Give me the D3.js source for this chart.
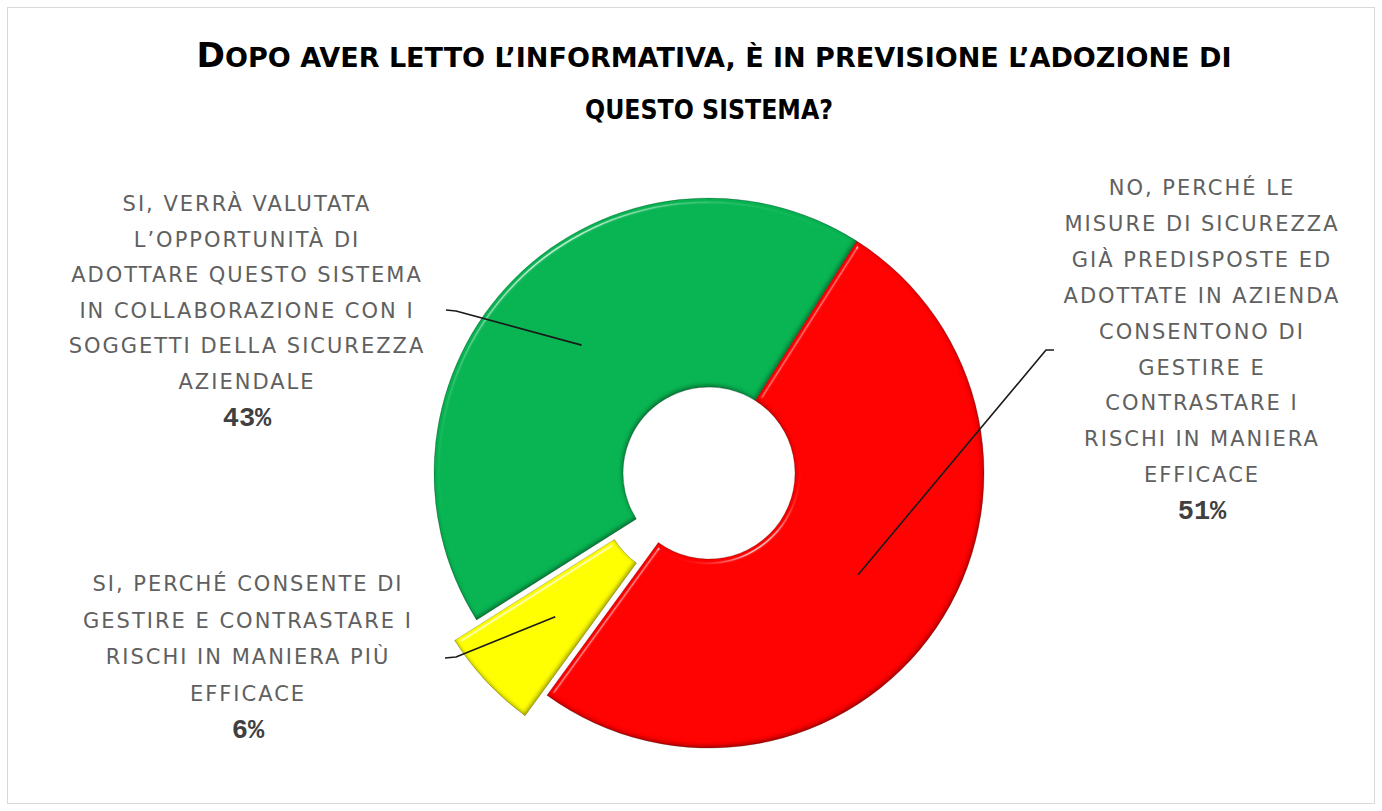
<!DOCTYPE html>
<html>
<head>
<meta charset="utf-8">
<script src="https://cdn.jsdelivr.net/npm/d3@7/dist/d3.min.js"></script>
<style>
  html, body { margin: 0; padding: 0; background: #ffffff; }
  svg { display: block; }
</style>
</head>
<body>
<svg id="chart" width="1382" height="811"></svg>
<script>
// ---------------- DATA ----------------
const titleLines = [
  "DOPO AVER LETTO L’INFORMATIVA, È IN PREVISIONE L’ADOZIONE DI",
  "QUESTO SISTEMA?"
];
const categories = [
  "NO, PERCHÉ LE MISURE DI SICUREZZA GIÀ PREDISPOSTE ED ADOTTATE IN AZIENDA CONSENTONO DI GESTIRE E CONTRASTARE I RISCHI IN MANIERA EFFICACE",
  "SI, PERCHÉ CONSENTE DI GESTIRE E CONTRASTARE I RISCHI IN MANIERA PIÙ EFFICACE",
  "SI, VERRÀ VALUTATA L’OPPORTUNITÀ DI ADOTTARE QUESTO SISTEMA IN COLLABORAZIONE CON I SOGGETTI DELLA SICUREZZA AZIENDALE"
];
const values = [51, 6, 43];
const labelLines = [
  ["NO, PERCHÉ LE", "MISURE DI SICUREZZA", "GIÀ PREDISPOSTE ED", "ADOTTATE IN AZIENDA", "CONSENTONO DI", "GESTIRE E", "CONTRASTARE I", "RISCHI IN MANIERA", "EFFICACE"],
  ["SI, PERCHÉ CONSENTE DI", "GESTIRE E CONTRASTARE I", "RISCHI IN MANIERA PIÙ", "EFFICACE"],
  ["SI, VERRÀ VALUTATA", "L’OPPORTUNITÀ DI", "ADOTTARE QUESTO SISTEMA", "IN COLLABORAZIONE CON I", "SOGGETTI DELLA SICUREZZA", "AZIENDALE"]
];

// ---------------- STYLE / LAYOUT ----------------
const W = 1382, H = 811;
const sliceColors = ["#ff0000", "#ffff00", "#08b552"];
const cx = 709, cy = 473;
const outerR = 275, innerR = 86;
const startDeg = 32.5;
const explodeBy = [0, 30, 0];
const labelLayout = [
  { x: 1202, y: 195, lh: 35.9, anchor: [1054, 350], hook: [1046, 350] },
  { x: 248, y: 591, lh: 36.5, anchor: [445, 658], hook: [456, 657] },
  { x: 247, y: 211, lh: 35.6, anchor: [446, 310], hook: [456, 311] }
];

const svg = d3.select("#chart");

// defs: bevel filter
const defs = svg.append("defs");
const f = defs.append("filter").attr("id", "bevel")
  .attr("color-interpolation-filters", "sRGB")
  .attr("x", "-10%").attr("y", "-10%").attr("width", "120%").attr("height", "120%");
f.append("feGaussianBlur").attr("in", "SourceAlpha").attr("stdDeviation", 2.5).attr("result", "blur");
const spec = f.append("feSpecularLighting").attr("in", "blur").attr("surfaceScale", 4)
  .attr("specularConstant", 0.8).attr("specularExponent", 60)
  .attr("lighting-color", "#ffffff").attr("result", "spec");
spec.append("feDistantLight").attr("azimuth", 235).attr("elevation", 45);
f.append("feComposite").attr("in", "spec").attr("in2", "SourceAlpha").attr("operator", "in").attr("result", "specIn");
f.append("feComponentTransfer").attr("in", "SourceAlpha").attr("result", "inv")
  .append("feFuncA").attr("type", "table").attr("tableValues", "1 0");
f.append("feGaussianBlur").attr("in", "inv").attr("stdDeviation", 2).attr("result", "invBlur");
f.append("feOffset").attr("in", "invBlur").attr("dx", -1.5).attr("dy", -2.5).attr("result", "invOff");
f.append("feFlood").attr("flood-color", "#000000").attr("flood-opacity", 0.4).attr("result", "blk");
f.append("feComposite").attr("in", "blk").attr("in2", "invOff").attr("operator", "in").attr("result", "shadowCol");
f.append("feComposite").attr("in", "shadowCol").attr("in2", "SourceAlpha").attr("operator", "in").attr("result", "innerShadow");
const merge = f.append("feMerge");
merge.append("feMergeNode").attr("in", "SourceGraphic");
merge.append("feMergeNode").attr("in", "innerShadow");
merge.append("feMergeNode").attr("in", "specIn");

// background + border
svg.append("rect").attr("x", 0).attr("y", 0).attr("width", W).attr("height", H).attr("fill", "#ffffff");
svg.append("rect").attr("x", 7.5).attr("y", 7.5).attr("width", W - 15).attr("height", H - 15)
  .attr("fill", "none").attr("stroke", "#d9d9d9").attr("stroke-width", 1);

// title
const title = svg.append("g").attr("class", "title");
const t1 = title.append("text").attr("x", 714).attr("y", 67).attr("text-anchor", "middle")
  .attr("font-family", "'DejaVu Sans', sans-serif").attr("font-weight", "bold").attr("fill", "#000")
  .attr("textLength", 1035).attr("lengthAdjust", "spacingAndGlyphs");
t1.append("tspan").attr("font-size", 33).text(titleLines[0].slice(0, 1));
t1.append("tspan").attr("font-size", 26).text(titleLines[0].slice(1));
title.append("text").attr("x", 709).attr("y", 119).attr("text-anchor", "middle")
  .attr("font-family", "'DejaVu Sans', sans-serif").attr("font-weight", "bold").attr("fill", "#000")
  .attr("font-size", 26).attr("textLength", 248).attr("lengthAdjust", "spacingAndGlyphs")
  .text(titleLines[1]);

// pie
const pie = d3.pie().sort(null).value(d => d)
  .startAngle(startDeg * Math.PI / 180)
  .endAngle(startDeg * Math.PI / 180 + 2 * Math.PI);
const arcs = pie(values);
const arc = d3.arc().innerRadius(innerR).outerRadius(outerR);

const g = svg.append("g").attr("transform", `translate(${cx},${cy})`);
const offsetOf = (d, i) => {
  const mid = (d.startAngle + d.endAngle) / 2;
  return [explodeBy[i] * Math.sin(mid), -explodeBy[i] * Math.cos(mid)];
};
g.selectAll("path.slice").data(arcs).enter().append("path")
  .attr("class", "slice")
  .attr("d", arc)
  .attr("transform", (d, i) => { const o = offsetOf(d, i); return `translate(${o[0]},${o[1]})`; })
  .attr("fill", (d, i) => sliceColors[i])
  .attr("stroke", "rgba(0,0,0,0.18)").attr("stroke-width", 1)
  .attr("filter", "url(#bevel)");

// leader lines
arcs.forEach((d, i) => {
  const c = arc.centroid(d);
  const o = offsetOf(d, i);
  const px = cx + c[0] + o[0], py = cy + c[1] + o[1];
  const L = labelLayout[i];
  const p = d3.path();
  p.moveTo(L.anchor[0], L.anchor[1]);
  p.lineTo(L.hook[0], L.hook[1]);
  p.lineTo(px, py);
  svg.append("path").attr("d", p.toString()).attr("fill", "none")
    .attr("stroke", "#1a1a1a").attr("stroke-width", 1.6).attr("stroke-linejoin", "round");
});

// labels
arcs.forEach((d, i) => {
  const L = labelLayout[i];
  const lines = labelLines[i];
  const lg = svg.append("g").attr("class", "label");
  lines.forEach((ln, j) => {
    lg.append("text").attr("x", L.x).attr("y", L.y + j * L.lh).attr("text-anchor", "middle")
      .attr("font-family", "'DejaVu Sans', sans-serif").attr("font-size", 21)
      .attr("font-weight", "normal").attr("fill", "#606060")
      .attr("letter-spacing", "2px")
      .text(ln);
  });
  lg.append("text").attr("x", L.x).attr("y", L.y + lines.length * L.lh + 1).attr("text-anchor", "middle")
    .attr("font-family", "'Liberation Mono', monospace").attr("font-size", 27)
    .attr("font-weight", "bold").attr("fill", "#404040")
    .text(d.data + "%");
});
</script>
</body>
</html>
